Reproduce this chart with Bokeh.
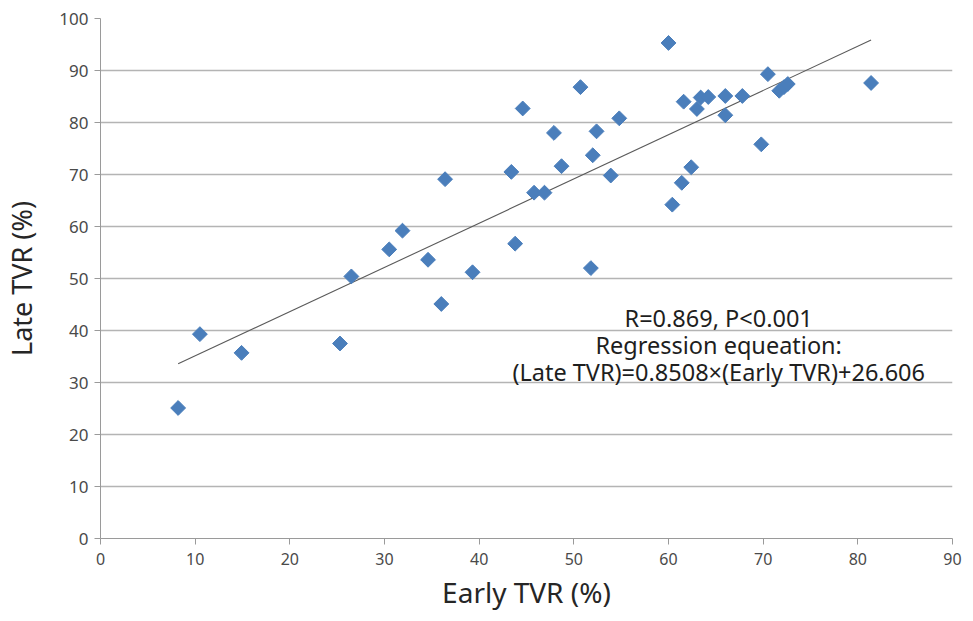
import numpy as np
from bokeh.plotting import figure
from bokeh.models import Label, FixedTicker
from bokeh.embed import file_html
from bokeh.resources import INLINE

early_tvr = [8.2, 10.5, 14.9, 25.3, 26.5, 30.5, 31.9, 34.6, 36.0, 36.4,
             39.3, 43.4, 43.8, 44.6, 45.8, 46.9, 47.9, 48.7, 50.7, 52.0,
             51.8, 52.4, 53.9, 54.8, 60.0, 60.4, 61.4, 61.6, 62.4, 63.0,
             63.4, 64.2, 66.0, 66.0, 67.8, 69.8, 70.5, 71.7, 72.2, 72.6, 81.4]
late_tvr = [25.1, 39.3, 35.7, 37.5, 50.4, 55.6, 59.2, 53.6, 45.1, 69.1,
            51.2, 70.5, 56.7, 82.7, 66.5, 66.5, 78.0, 71.6, 86.8, 73.7,
            52.0, 78.3, 69.8, 80.8, 95.3, 64.2, 68.4, 84.0, 71.4, 82.6,
            84.8, 84.9, 85.1, 81.4, 85.1, 75.8, 89.3, 86.1, 86.8, 87.4, 87.6]

slope = 0.8508
intercept = 26.606

x_ticks = list(range(0, 91, 10))
y_ticks = list(range(0, 101, 10))

annotation_lines = ["R=0.869, P<0.001",
                    "Regression equeation:",
                    "(Late TVR)=0.8508\u00d7(Early TVR)+26.606"]

FONT = "Noto Sans"

p = figure(width=962, height=613, x_range=(0, 90), y_range=(0, 100),
           output_backend="svg", toolbar_location=None,
           min_border_left=96, min_border_right=10, min_border_top=18,
           min_border_bottom=73)
p.outline_line_color = None
p.background_fill_color = "white"

p.xgrid.grid_line_color = None
p.ygrid.grid_line_color = "#b4b4b4"
p.ygrid.grid_line_width = 1.3

for ax in (p.xaxis, p.yaxis):
    ax.axis_line_color = "#9a9a9a"
    ax.major_tick_line_color = "#9a9a9a"
    ax.minor_tick_line_color = None
    ax.major_tick_out = 6
    ax.major_tick_in = 0
    ax.major_label_text_font = FONT
    ax.major_label_text_color = "#4a4a4a"
    ax.axis_label_text_font = FONT
    ax.axis_label_text_font_style = "normal"
    ax.axis_label_text_color = "#262626"

p.xaxis.major_label_text_font_size = "16px"
p.yaxis.major_label_text_font_size = "17px"
p.xaxis.axis_label_text_font_size = "28px"
p.yaxis.axis_label_text_font_size = "27px"

p.xaxis.ticker = FixedTicker(ticks=x_ticks)
p.yaxis.ticker = FixedTicker(ticks=y_ticks)
p.xaxis.axis_label = "Early TVR (%)"
p.yaxis.axis_label = "Late TVR (%)"
p.xaxis.major_label_standoff = 8
p.yaxis.major_label_standoff = 6
p.xaxis.axis_label_standoff = 5
p.yaxis.axis_label_standoff = 16

# regression line over data range
x_fit = np.array([min(early_tvr), max(early_tvr)])
y_fit = slope * x_fit + intercept
p.line(x_fit, y_fit, line_color="#5a5a5a", line_width=1.1)

p.scatter(early_tvr, late_tvr, marker="square", size=10.5, angle=np.pi / 4,
          fill_color="#4a7ebb", line_color="#4a7ebb")

ann_y = [42.5, 37.3, 32.0]
for txt, yy in zip(annotation_lines, ann_y):
    p.add_layout(Label(x=65.3, y=yy, text=txt, text_align="center",
                       text_baseline="middle", text_font=FONT,
                       text_font_size="23.5px", text_color="#1e1e1e"))

open("out.html", "w").write(file_html(p, INLINE))
